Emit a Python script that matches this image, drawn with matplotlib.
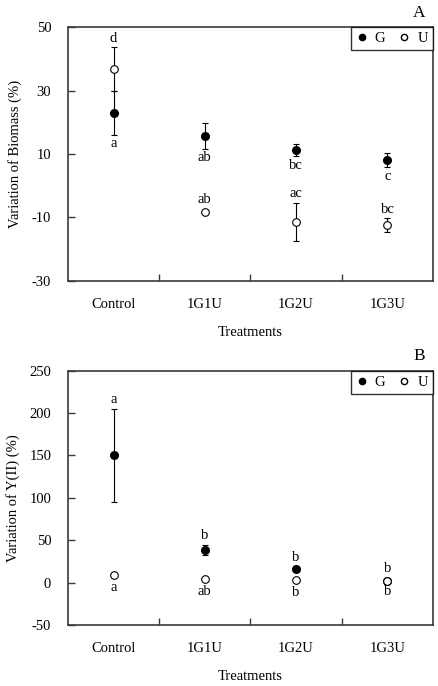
import numpy as np
import matplotlib
matplotlib.use('Agg')
import matplotlib.pyplot as plt
from matplotlib.lines import Line2D

plt.rcParams['font.family'] = ['Liberation Serif', 'DejaVu Serif']
plt.rcParams['font.size'] = 10
plt.rcParams['axes.unicode_minus'] = False

treatments = ['Control', '1G1U', '1G2U', '1G3U']

# Panel A - variation of biomass (%)
bio_g = [23.0, 15.7, 11.3, 8.0]
bio_g_err = [7.0, 4.0, 2.0, 2.2]
bio_u = [36.8, -8.3, -11.3, -12.5]
bio_u_err = [6.8, 0.0, 6.0, 2.2]
bio_g_letters = ['a', 'ab', 'bc', 'c']
bio_u_letters = ['d', 'ab', 'ac', 'bc']

# Panel B - variation of Y(II) (%)
y2_g = [150.0, 38.6, 16.5, 2.5]
y2_g_err = [55.0, 6.0, 3.0, 0.0]
y2_u = [9.0, 4.0, 3.0, 2.5]
y2_u_err = [0.0, 0.0, 0.0, 2.0]
y2_g_letters = ['a', 'b', 'b', 'b']
y2_u_letters = ['a', 'ab', 'b', 'b']

fig = plt.figure(figsize=(4.38, 6.86), dpi=100)
axA = fig.add_axes([0.155, 0.5904, 0.8336, 0.3702])
axB = fig.add_axes([0.155, 0.0889, 0.8336, 0.3707])

axis_col = '#3a3a3a'


def letras(ax, x, vals, errs, letters, up):
    sign = 1 if up else -1
    for xi, v, e, t in zip(x, vals, errs, letters):
        off = 6.5 if e > 0 else 9.0
        ax.annotate(t, (xi, v + sign * e), xytext=(0, sign * off),
                    textcoords='offset points', ha='center', va='center',
                    fontsize=10.5)


def panel(ax, g, g_err, u, u_err, g_let, u_let, g_up, ylim, yticks,
          ylabel, tag):
    x = np.arange(len(treatments))
    ax.errorbar(x, g, yerr=g_err, fmt='o', color='black', mfc='black',
                mec='black', ms=5.5, elinewidth=0.8, capsize=2.5,
                capthick=0.8, zorder=3)
    ax.errorbar(x, u, yerr=u_err, fmt='o', color='black', mfc='white',
                mec='black', ms=5.5, mew=0.8, elinewidth=0.8, capsize=2.5,
                capthick=0.8, zorder=4)
    letras(ax, x, g, g_err, g_let, g_up)
    letras(ax, x, u, u_err, u_let, not g_up)

    ax.set_xlim(-0.5, len(treatments) - 0.5)
    ax.set_ylim(*ylim)
    ax.set_yticks(yticks)
    ax.set_xticks(np.arange(len(treatments) - 1) + 0.5)
    ax.set_xticklabels([])
    ax.set_xticks(x, minor=True)
    ax.set_xticklabels(treatments, minor=True)
    ax.tick_params(axis='x', which='major', direction='in', length=5,
                   width=1, color=axis_col)
    ax.tick_params(axis='x', which='minor', length=0, pad=12, labelsize=10.5)
    ax.tick_params(axis='y', direction='in', length=5, width=1,
                   color=axis_col, pad=12, labelsize=10.5)
    for s in ax.spines.values():
        s.set_color(axis_col)
        s.set_linewidth(1.2)
    ax.set_xlabel('Treatments', labelpad=11, fontsize=10.5)
    ax.set_ylabel(ylabel, labelpad=7, fontsize=10.5)

    handles = [Line2D([], [], ls='none', marker='o', mfc='black', mec='black',
                      ms=4.5, label='G'),
               Line2D([], [], ls='none', marker='o', mfc='white', mec='black',
                      ms=4.5, label='U')]
    leg = ax.legend(handles=handles, loc='upper right', ncol=2, frameon=True,
                    fancybox=False, borderaxespad=0, handlelength=0.8,
                    handletextpad=0.5, columnspacing=0.9, borderpad=0.35,
                    fontsize=10.5)
    leg.get_frame().set_edgecolor('black')
    leg.get_frame().set_linewidth(1.0)
    ax.text(0.962, 1.025, tag, transform=ax.transAxes, ha='center',
            va='bottom', fontsize=12.5)


panel(axA, bio_g, bio_g_err, bio_u, bio_u_err, bio_g_letters, bio_u_letters,
      False, (-30, 50), [-30, -10, 10, 30, 50], 'Variation of Biomass (%)', 'A')
panel(axB, y2_g, y2_g_err, y2_u, y2_u_err, y2_g_letters, y2_u_letters,
      True, (-50, 250), [-50, 0, 50, 100, 150, 200, 250],
      'Variation of Y(II) (%)', 'B')

fig.savefig('out.png', dpi=100)
